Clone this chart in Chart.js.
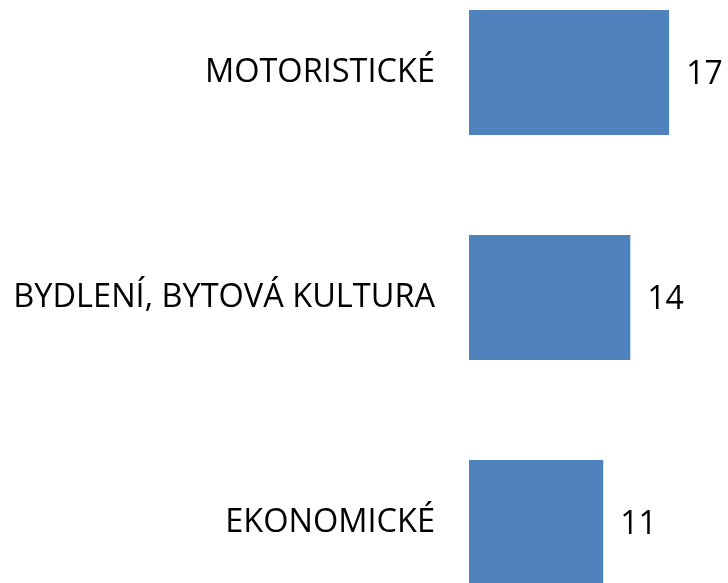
<!DOCTYPE html>
<html>
<head>
<meta charset="utf-8">
<script src="https://cdn.jsdelivr.net/npm/chart.js@4"></script>
<style>
  html, body { margin: 0; padding: 0; background: #fff; }
  #frame { position: relative; width: 728px; height: 583px; overflow: hidden; }
  #chart { position: absolute; left: 0; top: -40px; }
</style>
</head>
<body>
<div id="frame"><canvas id="chart" width="728" height="675"></canvas></div>
<script>
// categories and values (labels show rounded values)
const categories = ['MOTORISTICKÉ', 'BYDLENÍ, BYTOVÁ KULTURA', 'EKONOMICKÉ'];
const values = [17, 13.7, 11.4];

const fontFamily = '"Open Sans", "Liberation Sans", sans-serif';

// simple value labels at the end of each bar
const valueLabels = {
    id: 'valueLabels',
    afterDatasetsDraw(chart) {
        const ctx = chart.ctx;
        const meta = chart.getDatasetMeta(0);
        ctx.save();
        ctx.font = '32px ' + fontFamily;
        ctx.fillStyle = '#000';
        ctx.textAlign = 'left';
        ctx.textBaseline = 'middle';
        meta.data.forEach((bar, i) => {
            ctx.fillText(String(Math.round(values[i])), bar.x + 17, bar.y + 2);
        });
        ctx.restore();
    }
};

new Chart(document.getElementById('chart').getContext('2d'), {
    type: 'bar',
    data: {
        labels: categories,
        datasets: [{
            data: values,
            backgroundColor: '#4f81bd',
            borderWidth: 0,
            categoryPercentage: 1,
            barPercentage: 0.555
        }]
    },
    options: {
        indexAxis: 'y',
        responsive: false,
        animation: false,
        layout: { padding: 0 },
        plugins: {
            legend: { display: false },
            tooltip: { enabled: false }
        },
        scales: {
            x: {
                min: 0,
                max: 22,
                display: false
            },
            y: {
                grid: { display: false, drawTicks: false },
                border: { display: false },
                ticks: {
                    color: '#000',
                    padding: 34,
                    font: { size: 32.5, family: fontFamily }
                },
                afterFit(scale) {
                    scale.width = 469;
                    scale.paddingTop = 0;
                    scale.paddingBottom = 0;
                }
            }
        }
    },
    plugins: [valueLabels]
});
</script>
</body>
</html>
